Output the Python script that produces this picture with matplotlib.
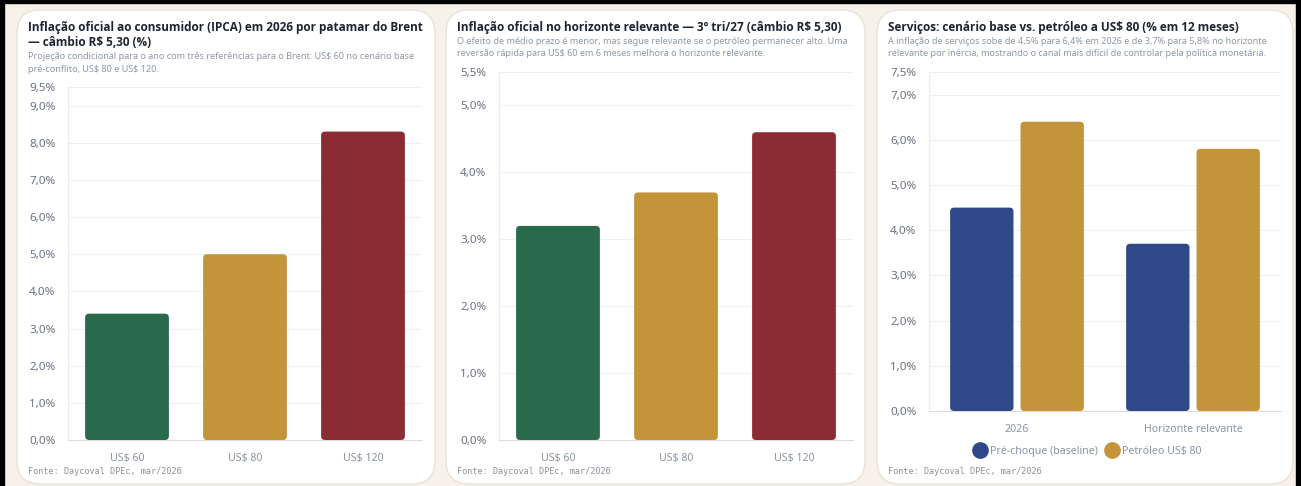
import numpy as np
import matplotlib
matplotlib.use("Agg")
import matplotlib.pyplot as plt
from matplotlib.patches import FancyBboxPatch, Rectangle
from matplotlib.lines import Line2D

# ---- data ----
brent_labels = ["US$ 60", "US$ 80", "US$ 120"]
ipca_2026 = [3.4, 5.0, 8.3]
ipca_horizonte = [3.2, 3.7, 4.6]
serv_groups = ["2026", "Horizonte relevante"]
serv_baseline = [4.5, 3.7]
serv_oil80 = [6.4, 5.8]
series_names = ["Pré-choque (baseline)", "Petróleo US$ 80"]

titles = [
    "Inflação oficial ao consumidor (IPCA) em 2026 por patamar do Brent\n— câmbio R$ 5,30 (%)",
    "Inflação oficial no horizonte relevante — 3º tri/27 (câmbio R$ 5,30)",
    "Serviços: cenário base vs. petróleo a US$ 80 (% em 12 meses)",
]
subtitles = [
    "Projeção condicional para o ano com três referências para o Brent: US$ 60 no cenário base\npré-conflito, US$ 80 e US$ 120.",
    "O efeito de médio prazo é menor, mas segue relevante se o petróleo permanecer alto. Uma\nreversão rápida para US$ 60 em 6 meses melhora o horizonte relevante.",
    "A inflação de serviços sobe de 4,5% para 6,4% em 2026 e de 3,7% para 5,8% no horizonte\nrelevante por inércia, mostrando o canal mais difícil de controlar pela política monetária.",
]
source = "Fonte: Daycoval DPEc, mar/2026"

GREEN, GOLD, RED, BLUE = "#2a6a4c", "#c4943b", "#8b2b33", "#2e4888"
BG = "#f6f2ea"
TITLE_C = "#1f2430"
SUB_C = "#8e97a8"
TICK_C = "#6b7280"
XLAB_C = "#8a92a3"

W, H = 1301, 486
plt.rcParams["font.family"] = ["Noto Sans", "DejaVu Sans"]
plt.rcParams["text.parse_math"] = False

fig = plt.figure(figsize=(W / 100, H / 100), dpi=100, facecolor=BG)


def fx(x):
    return x / W


def fy(y):
    return 1 - y / H


def box(l, t, r, b):
    return [l / W, 1 - b / H, (r - l) / W, (b - t) / H]


# black screenshot frame
for rect in [(0, 0, 4 / W, 1), (0, fy(3), 1, 3 / H), (fx(1296), 0, 5 / W, 1)]:
    fig.patches.append(Rectangle(rect[:2], rect[2], rect[3], transform=fig.transFigure,
                                 color="black", zorder=-3))

# cards
cards = [(17, 10, 435, 484), (446, 10, 865, 484), (877, 10, 1293, 484)]
for l, t, r, b in cards:
    fig.patches.append(FancyBboxPatch((fx(l), fy(b)), (r - l) / W, (b - t) / H,
                                      boxstyle="round,pad=0,rounding_size=0.018",
                                      mutation_aspect=W / H,
                                      transform=fig.transFigure, facecolor="white",
                                      edgecolor="#e9e3d7", linewidth=1.0, zorder=-2))


def pct(v):
    return f"{v:.1f}%".replace(".", ",")


def style_axes(ax, ymax, ticks):
    ax.set_facecolor("none")
    ax.set_ylim(0, ymax)
    ax.set_yticks(ticks)
    ax.set_yticklabels([pct(t) for t in ticks])
    ax.tick_params(axis="y", length=0, pad=9, labelsize=8.4, labelcolor=TICK_C)
    ax.tick_params(axis="x", length=0, pad=9, labelsize=7.6, labelcolor=XLAB_C)
    ax.grid(axis="y", color="#f0f0f0", linewidth=0.8)
    ax.set_axisbelow(True)
    for s in ["top", "right"]:
        ax.spines[s].set_visible(False)
    ax.spines["left"].set_color("#ececec")
    ax.spines["bottom"].set_color("#dcdcdc")


def round_bars(ax, bars, radius_px=4):
    # swap plain rectangles for rounded ones with the same geometry
    bb = ax.get_window_extent()
    x0, x1 = ax.get_xlim()
    y0, y1 = ax.get_ylim()
    ux = (x1 - x0) / bb.width
    uy = (y1 - y0) / bb.height
    for p in bars:
        x, y, w, h = p.get_x(), p.get_y(), p.get_width(), p.get_height()
        fc = p.get_facecolor()
        p.remove()
        ax.add_patch(FancyBboxPatch((x, y), w, h,
                                    boxstyle=f"round,pad=0,rounding_size={radius_px * ux}",
                                    mutation_aspect=uy / ux, facecolor=fc,
                                    edgecolor="none", zorder=3))


def header(card, title, sub, ty, sy):
    l = card[0] + 11
    fig.text(fx(l), fy(ty), title, fontsize=8.45, fontweight="bold", color=TITLE_C,
             family=["Open Sans", "DejaVu Sans"], va="top", ha="left", linespacing=1.25)
    fig.text(fx(l), fy(sy), sub, fontsize=6.5, color=SUB_C, va="top", ha="left",
             linespacing=1.5)
    fig.text(fx(l), fy(471), source, fontsize=6.1, color="#8b909a",
             family="DejaVu Sans Mono", va="center", ha="left")


# ---- panel 1 ----
ax1 = fig.add_axes(box(68, 87, 422, 440))
style_axes(ax1, 9.5, list(range(10)) + [9.5])
ax1.set_xlim(-0.5, 2.5)
x = np.arange(len(brent_labels))
b1 = ax1.bar(x, ipca_2026, width=0.71, color=[GREEN, GOLD, RED])
ax1.set_xticks(x)
ax1.set_xticklabels(brent_labels)
header(cards[0], titles[0], subtitles[0], 21, 52)

# ---- panel 2 ----
ax2 = fig.add_axes(box(499, 72, 853, 440))
style_axes(ax2, 5.5, list(range(6)) + [5.5])
ax2.set_xlim(-0.5, 2.5)
b2 = ax2.bar(x, ipca_horizonte, width=0.71, color=[GREEN, GOLD, RED])
ax2.set_xticks(x)
ax2.set_xticklabels(brent_labels)
header(cards[1], titles[1], subtitles[1], 21, 37)

# ---- panel 3 ----
ax3 = fig.add_axes(box(929, 72, 1281, 411))
style_axes(ax3, 7.5, list(range(8)) + [7.5])
ax3.set_xlim(-0.5, 1.5)
g = np.arange(len(serv_groups))
b3a = ax3.bar(g - 0.2, serv_baseline, width=0.36, color=BLUE)
b3b = ax3.bar(g + 0.2, serv_oil80, width=0.36, color=GOLD)
ax3.set_xticks(g)
ax3.set_xticklabels(serv_groups)
header(cards[2], titles[2], subtitles[2], 21, 37)

handles = [Line2D([], [], marker="o", linestyle="none", markersize=11,
                  markerfacecolor=c, markeredgecolor=c) for c in (BLUE, GOLD)]
fig.legend(handles, series_names, loc="center", bbox_to_anchor=(fx(1088), fy(451)),
           ncol=2, frameon=False, fontsize=7.6, labelcolor=XLAB_C,
           handletextpad=0.45, columnspacing=0.9, handlelength=1.0)

for ax, bars in [(ax1, b1), (ax2, b2), (ax3, list(b3a) + list(b3b))]:
    round_bars(ax, bars)

fig.savefig("out.png", dpi=100, facecolor=BG)
